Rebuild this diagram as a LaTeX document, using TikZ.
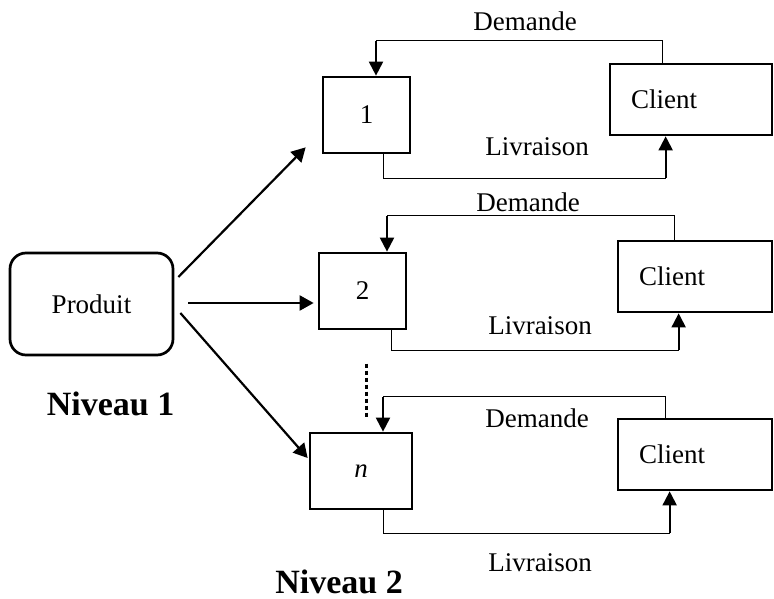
\documentclass[tikz,border=0pt]{standalone}
\usepackage{fontspec}
\setmainfont{Liberation Serif}
\usetikzlibrary{arrows.meta,calc}
\begin{document}
\begin{tikzpicture}[x=1pt,y=-1pt,
  txt/.style={font=\fontsize{27}{32}\selectfont, inner sep=0pt},
  lvl/.style={font=\fontsize{34}{40}\selectfont\bfseries, inner sep=0pt},
  stockbox/.style={draw, line width=2.7pt, inner sep=0pt, minimum height=76pt, font=\fontsize{27}{32}\selectfont},
  clientbox/.style={draw, line width=2.7pt, minimum height=71pt, inner xsep=21pt, inner ysep=0pt, align=left, font=\fontsize{27}{32}\selectfont},
  prodbox/.style={draw, line width=2.7pt, rounded corners=16pt, minimum width=163pt, minimum height=102pt, font=\fontsize{27}{32}\selectfont},
  flow/.style={line width=1pt},
  tipflow/.style={line width=2pt, -{Triangle[length=14pt,width=14pt]}},
  feed/.style={line width=2.2pt, -{Triangle[length=14pt,width=15pt]}},
  dots/.style={line width=3pt, dash pattern=on 4pt off 3pt}]
\useasboundingbox (0,0) rectangle (774,599);

% nodes
\node[prodbox] (prod) at (91.5,304) {Produit};
\node[stockbox, minimum width=87pt] (b1) at (366.5,115) {1};
\node[stockbox, minimum width=87pt] (b2) at (362.5,291) {2};
\node[stockbox, minimum width=102pt] (bn) at (361,471) {\textit{n}};
\node[clientbox, minimum width=162pt, text width=120pt] (c1) at (691,99.5) {Client};
\node[clientbox, minimum width=154pt, text width=112pt] (c2) at (695,276.5) {Client};
\node[clientbox, minimum width=154pt, text width=112pt] (c3) at (695,454.5) {Client};

% labels
\node[txt] (dem1) at (525,21) {Demande};
\node[txt] (liv1) at (537,147) {Livraison};
\node[txt] (dem2) at (528,202) {Demande};
\node[txt] (liv2) at (540,326) {Livraison};
\node[txt] (dem3) at (537,418) {Demande};
\node[txt] (liv3) at (540,563) {Livraison};
\node[lvl] (niv1) at (110.5,404) {Niveau 1};
\node[lvl] (niv2) at (339,582) {Niveau 2};

% feeds from product
\draw[feed] ($(prod.east)+(4,-27)$) -- ($(b1.south west)+(-16,-7)$);
\draw[feed] ($(prod.east)+(14,-1)$) -- ($(b2.west)+(-4,12)$);
\draw[feed] ($(prod.east)+(6,9)$) -- ($(bn.west)+(-1,-13)$);

% level 1 loop
\coordinate (d1) at ($(b1.north)+(9.5,-35)$);
\draw[flow] ($(c1.north west)+(54,0)$) |- (d1);
\draw[tipflow] (d1) -- ($(b1.north)+(9.5,0)$);
\coordinate (l1) at ($(c1.south west)+(57,42)$);
\draw[flow] ($(b1.south)+(16.5,0)$) |- (l1);
\draw[tipflow] (l1) -- ($(c1.south west)+(57,0)$);

% level 2 loop
\coordinate (d2) at ($(b2.north)+(24.5,-36)$);
\draw[flow] ($(c2.north west)+(58,0)$) |- (d2);
\draw[tipflow] (d2) -- ($(b2.north)+(24.5,0)$);
\coordinate (l2) at ($(c2.south west)+(62,37)$);
\draw[flow] ($(b2.south)+(28.5,0)$) |- (l2);
\draw[tipflow] (l2) -- ($(c2.south west)+(62,0)$);

% level n loop
\coordinate (d3) at ($(bn.north)+(22,-35)$);
\draw[flow] ($(c3.north west)+(49,0)$) |- (d3);
\draw[tipflow] (d3) -- ($(bn.north)+(22,0)$);
\coordinate (l3) at ($(c3.south west)+(53,42)$);
\draw[flow] ($(bn.south)+(22,0)$) |- (l3);
\draw[tipflow] (l3) -- ($(c3.south west)+(53,0)$);

% ellipsis
\draw[dots] ($(bn.north)+(5,-68)$) -- ($(bn.north)+(5,-13)$);
\end{tikzpicture}
\end{document}
